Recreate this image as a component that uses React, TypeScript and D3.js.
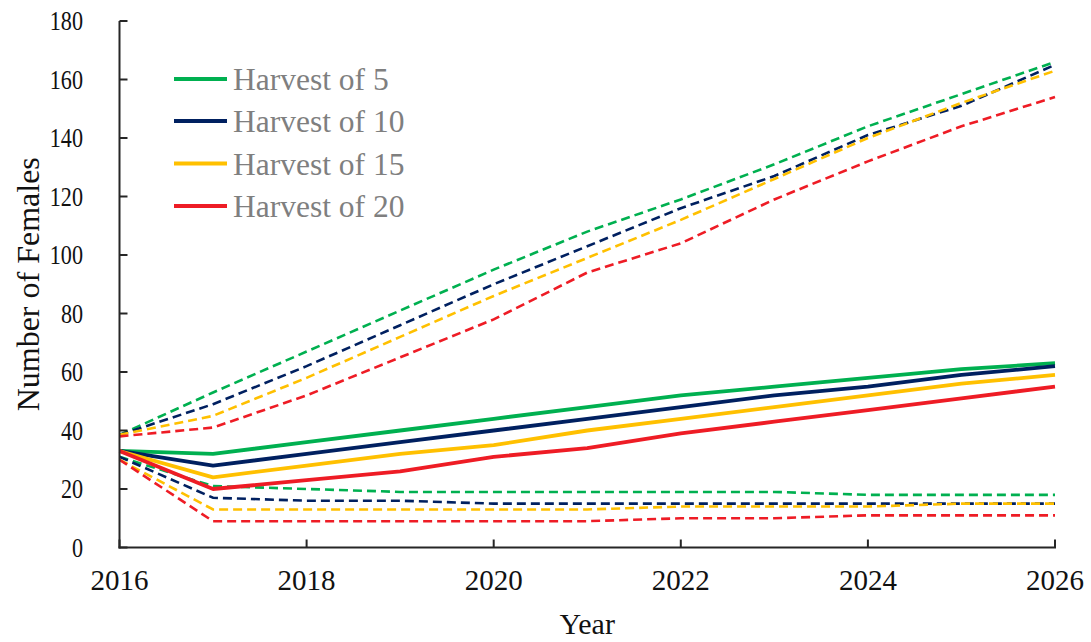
import React from "react";
import * as d3 from "d3";

const years = [2016, 2017, 2018, 2019, 2020, 2021, 2022, 2023, 2024, 2025, 2026];

const meanH5 = [33, 32, 36, 40, 44, 48, 52, 55, 58, 61, 63];
const meanH10 = [33, 28, 32, 36, 40, 44, 48, 52, 55, 59, 62];
const meanH15 = [33, 24, 28, 32, 35, 40, 44, 48, 52, 56, 59];
const meanH20 = [33, 20, 23, 26, 31, 34, 39, 43, 47, 51, 55];

const upperH5 = [38.5, 53, 67, 81, 95, 108, 119, 131, 144, 155, 166];
const upperH10 = [38.5, 49, 62, 76, 90, 103, 116, 127, 141, 151, 165];
const upperH15 = [38.5, 45, 58, 72, 86, 99, 112, 126, 140, 152, 163];
const upperH20 = [38, 41, 52, 65, 78, 94, 104, 119, 132, 144, 154];

const lowerH5 = [31, 21, 20, 19, 19, 19, 19, 19, 18, 18, 18];
const lowerH10 = [31, 17, 16, 16, 15, 15, 15, 15, 15, 15, 15];
const lowerH15 = [30, 13, 13, 13, 13, 13, 14, 14, 14, 15, 15];
const lowerH20 = [30, 9, 9, 9, 9, 9, 10, 10, 11, 11, 11];

const seriesNames = ["Harvest of 5", "Harvest of 10", "Harvest of 15", "Harvest of 20"];
const seriesColors = ["#00B050", "#002060", "#FFC000", "#EE1C25"];
const meanSeries = [meanH5, meanH10, meanH15, meanH20];
const upperSeries = [upperH5, upperH10, upperH15, upperH20];
const lowerSeries = [lowerH5, lowerH10, lowerH15, lowerH20];

const xTicks = [2016, 2018, 2020, 2022, 2024, 2026];
const yTicks = [0, 20, 40, 60, 80, 100, 120, 140, 160, 180];

const W = 1091;
const H = 642;
const FONT = "'Liberation Serif', 'Times New Roman', Times, serif";
const tStyle = { fontFamily: FONT };

export default function App() {
  const x = d3.scaleLinear().domain([2016, 2026]).range([119.5, 1055]);
  const y = d3.scaleLinear().domain([0, 180]).range([547.5, 21]);
  const line = (vals: number[]) =>
    d3
      .line<number>()
      .x((_, i) => x(years[i]))
      .y((v) => y(v))(vals) as string;

  const axisColor = "#262626";

  return (
    <svg
      width={W}
      height={H}
      style={{ position: "absolute", left: 0, top: 0, background: "#fff", fontFamily: FONT }}
    >
      <rect x={0} y={0} width={W} height={H} fill="#fff" />
      {upperSeries.map((s, i) => (
        <path key={"u" + i} d={line(s)} fill="none" stroke={seriesColors[i]} strokeWidth={2.6} strokeDasharray="9,5" />
      ))}
      {lowerSeries.map((s, i) => (
        <path key={"l" + i} d={line(s)} fill="none" stroke={seriesColors[i]} strokeWidth={2.6} strokeDasharray="9,5" />
      ))}
      {meanSeries.map((s, i) => (
        <path key={"m" + i} d={line(s)} fill="none" stroke={seriesColors[i]} strokeWidth={3.8} strokeLinejoin="round" />
      ))}

      <line x1={x(2016)} x2={x(2016)} y1={y(180)} y2={y(0) + 1} stroke={axisColor} strokeWidth={2} />
      <line x1={x(2016) - 1} x2={x(2026) + 1} y1={y(0)} y2={y(0)} stroke={axisColor} strokeWidth={2} />
      {yTicks.map((t) => (
        <g key={"yt" + t}>
          <line x1={x(2016)} x2={x(2016) + 8} y1={y(t)} y2={y(t)} stroke={axisColor} strokeWidth={2} />
          <text
            transform={`translate(83, ${y(t)}) scale(0.82, 1)`}
            dy="0.35em"
            textAnchor="end"
            fontSize={27}
            fill="#111"
            style={tStyle}
          >
            {t}
          </text>
        </g>
      ))}
      {xTicks.map((t) => (
        <g key={"xt" + t}>
          <line x1={x(t)} x2={x(t)} y1={y(0)} y2={y(0) - 8} stroke={axisColor} strokeWidth={2} />
          <text x={x(t)} y={590} textAnchor="middle" fontSize={29} fill="#111" style={tStyle}>
            {t}
          </text>
        </g>
      ))}

      <text x={(x(2016) + x(2026)) / 2} y={634} textAnchor="middle" fontSize={30} fill="#111" style={tStyle}>
        Year
      </text>
      <text
        transform={`translate(39, ${(y(0) + y(180)) / 2}) rotate(-90)`}
        textAnchor="middle"
        fontSize={32}
        fill="#111"
        style={tStyle}
      >
        Number of Females
      </text>

      {seriesNames.map((n, i) => {
        const ly = [79, 121, 163.5, 206][i];
        return (
          <g key={"lg" + i}>
            <line x1={174} x2={227} y1={ly} y2={ly} stroke={seriesColors[i]} strokeWidth={3.8} />
            <text x={233} y={ly} dy="0.35em" fontSize={31.5} fill="#7F7F7F" style={tStyle}>
              {n}
            </text>
          </g>
        );
      })}
    </svg>
  );
}
